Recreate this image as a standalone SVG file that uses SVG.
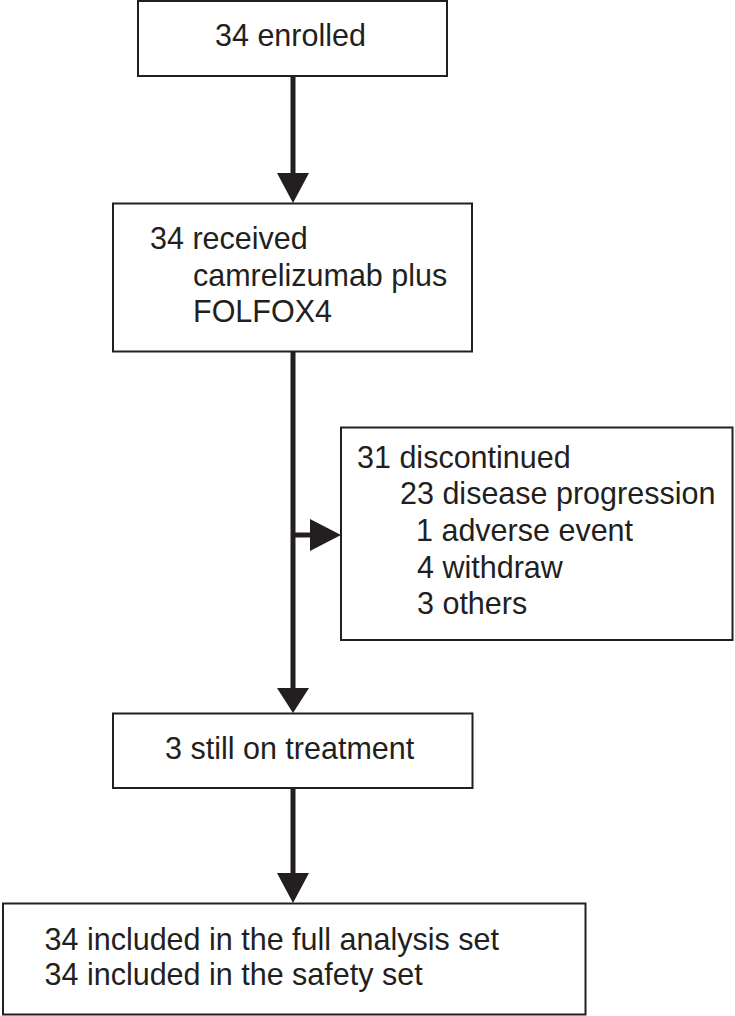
<svg xmlns="http://www.w3.org/2000/svg" width="735" height="1016" viewBox="0 0 735 1016">
<style>
.box{fill:#fff;stroke:#231f20;stroke-width:2}
.t{font-family:"Liberation Sans",Arial,sans-serif;font-size:30.5px;fill:#231f20}
.ln{stroke:#231f20;stroke-width:5;fill:none}
.ah{fill:#231f20}
</style>
<rect width="735" height="1016" fill="#fff"/>
<g id="connectors">
<line class="ln" x1="293" y1="76" x2="293" y2="175"/>
<polygon class="ah" points="277,173 309,173 293,203"/>
<line class="ln" x1="293" y1="352" x2="293" y2="690"/>
<polygon class="ah" points="277,688 309,688 293,713"/>
<line class="ln" x1="293" y1="535" x2="312" y2="535"/>
<polygon class="ah" points="310,519 310,551 341,535"/>
<line class="ln" x1="293" y1="788" x2="293" y2="875"/>
<polygon class="ah" points="277,873 309,873 293,903"/>
</g>
<g id="enrolled">
<rect class="box" x="138" y="1" width="309" height="75"/>
<text class="t" x="215" y="46">34 enrolled</text>
</g>
<g id="received">
<rect class="box" x="113" y="203.5" width="359" height="148"/>
<text class="t" x="150" y="249.3">34 received</text>
<text class="t" x="193" y="285.8">camrelizumab plus</text>
<text class="t" x="193" y="322.3">FOLFOX4</text>
</g>
<g id="discontinued">
<rect class="box" x="341" y="427.5" width="391.5" height="212.5"/>
<text class="t" x="357" y="467.5">31 discontinued</text>
<text class="t" x="400" y="504">23 disease progression</text>
<text class="t" x="416" y="540.5">1 adverse event</text>
<text class="t" x="417" y="577.5">4 withdraw</text>
<text class="t" x="417" y="614">3 others</text>
</g>
<g id="still">
<rect class="box" x="113" y="713.5" width="359.5" height="74.5"/>
<text class="t" x="165" y="759">3 still on treatment</text>
</g>
<g id="analysis">
<rect class="box" x="3" y="903.5" width="582.5" height="111"/>
<text class="t" x="44.5" y="949.5">34 included in the full analysis set</text>
<text class="t" x="44.5" y="984.5">34 included in the safety set</text>
</g>
</svg>
